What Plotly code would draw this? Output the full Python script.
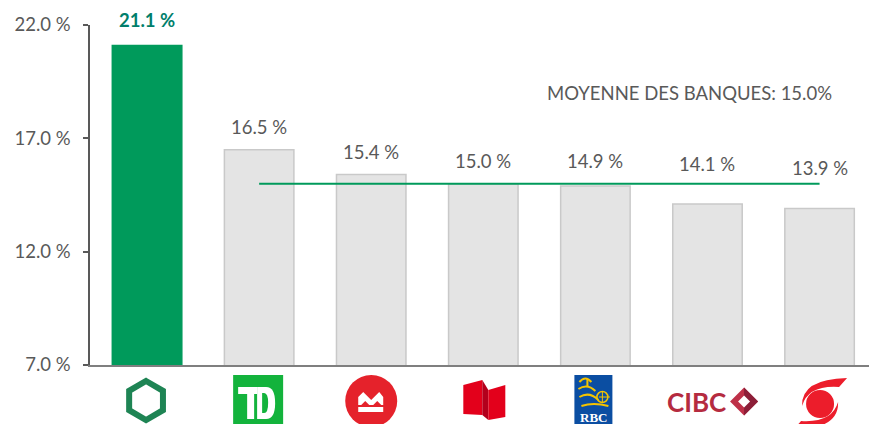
import math
import plotly.graph_objects as go

# ---------------- data ----------------
banks = ["Desjardins", "TD", "BMO", "Banque Nationale", "RBC", "CIBC", "Banque Scotia"]
roe = [21.1, 16.5, 15.4, 15.0, 14.9, 14.1, 13.9]
bank_average = 15.0
y_tick_values = [7.0, 12.0, 17.0, 22.0]
y_tick_labels = ["7.0 %", "12.0 %", "17.0 %", "22.0 %"]
average_label = "MOYENNE DES BANQUES: 15.0%"
value_labels = [f"{v:.1f} %" for v in roe]

# ---------------- style ----------------
FONT = "Lato"
FS = 18.5
GREY_TXT = "#595959"
GREEN = "#009A5B"
TEAL = "#007E6B"
x = list(range(len(banks)))
bar_colors = [GREEN] + ["#E4E4E4"] * (len(banks) - 1)
bar_lines = [GREEN] + ["#C9C9C9"] * (len(banks) - 1)

fig = go.Figure()
fig.add_trace(go.Bar(
    x=x, y=roe, width=0.62, hovertext=banks, showlegend=False,
    marker=dict(color=bar_colors, line=dict(color=bar_lines, width=1.5)),
))
fig.add_trace(go.Scatter(
    x=[x[1], x[-1]], y=[bank_average, bank_average], mode="lines",
    line=dict(color=GREEN, width=2), showlegend=False, hoverinfo="skip",
))

annotations = []
for i, (v, lab) in enumerate(zip(roe, value_labels)):
    if i == 0:
        annotations.append(dict(x=x[i], y=v, yshift=25, text=f"<b>{lab}</b>", showarrow=False,
                                font=dict(family=FONT, size=FS, color=TEAL), yanchor="middle"))
    else:
        base = max(v, bank_average)
        shift = 23 if v >= bank_average - 0.2 else (20 if v >= 14.0 else 16)
        annotations.append(dict(x=x[i], y=base, yshift=shift, text=lab, showarrow=False,
                                font=dict(family=FONT, size=FS, color=GREY_TXT), yanchor="middle"))
annotations.append(dict(x=4.84, y=19.0, text=average_label, showarrow=False,
                        font=dict(family=FONT, size=FS, color=GREY_TXT), xanchor="center", yanchor="middle"))

# ---------------- logos (drawn with pixel-sized shapes under each bar) ----------------
AX = dict(xref="x", yref="paper", xsizemode="pixel", ysizemode="pixel", yanchor=0)


def to_path(cmds, ox, oy):
    out = []
    for c in cmds:
        op = c[0]
        if op == "Z":
            out.append("Z")
            continue
        nums = c[1:]
        pts = [f"{nums[k] + ox:.1f},{-(nums[k + 1] + oy):.1f}" for k in range(0, len(nums), 2)]
        out.append(op + " " + " ".join(pts))
    return " ".join(out)


def poly(pts):
    return [("M", *pts[0])] + [("L", *p) for p in pts[1:]] + [("Z",)]


def rect(x0, y0, x1, y1):
    return poly([(x0, y0), (x1, y0), (x1, y1), (x0, y1)])


def pshape(i, cmds, ox, oy, fill="rgba(0,0,0,0)", line_color=None, lw=0):
    return dict(type="path", xanchor=i, path=to_path(cmds, ox, oy), fillcolor=fill,
                line=dict(color=line_color or "rgba(0,0,0,0)", width=lw), layer="above", **AX)


def cshape(i, cx, cy, r, fill="rgba(0,0,0,0)", line_color=None, lw=0):
    return dict(type="circle", xanchor=i, x0=cx - r, x1=cx + r, y0=-(cy - r), y1=-(cy + r),
                fillcolor=fill, line=dict(color=line_color or "rgba(0,0,0,0)", width=lw),
                layer="above", **AX)


shapes = []
# 1 Desjardins hexagon
R = 19.5
hexpts = [(R * math.cos(math.radians(a)), -R * math.sin(math.radians(a))) for a in (90, 30, -30, -90, -150, 150)]
shapes.append(pshape(0, poly(hexpts), -1, 35.5, line_color="#1E8454", lw=6))

# 2 TD
TDG = "#13B33C"
shapes.append(pshape(1, rect(-25, -25, 25, 25), -1, 35, fill=TDG))
shapes.append(pshape(1, rect(-20, -13, -1, -6), -1, 35, fill="white"))
shapes.append(pshape(1, rect(-11, -13, -4, 19), -1, 35, fill="white"))
shapes.append(pshape(1, [("M", -1, -13), ("L", 8, -13), ("Q", 17, -13, 17, 3), ("Q", 17, 19, 8, 19),
                         ("L", -1, 19), ("Z",)], -1, 35, fill="white"))
shapes.append(pshape(1, [("M", 4, -7), ("L", 6, -7), ("Q", 10, -7, 10, 3), ("Q", 10, 13, 6, 13),
                         ("L", 4, 13), ("Z",)], -1, 35, fill=TDG))

# 3 BMO
BMOR = "#E5222B"
shapes.append(cshape(2, 0, 36, 26, fill=BMOR))
shapes.append(pshape(2, poly([(-13, 4), (-13, -4), (-8, -9), (0, -1), (8, -9), (12, -4), (12, 4)]), 0, 36, fill="white"))
shapes.append(pshape(2, poly([(-10, 4), (-6, 0), (-2, 4)]), 0, 36, fill=BMOR))
shapes.append(pshape(2, poly([(2, 4), (6, 0), (10, 4)]), 0, 36, fill=BMOR))
shapes.append(pshape(2, rect(-13, 6, 12, 11), 0, 36, fill="white"))

# 4 Banque Nationale
shapes.append(pshape(3, poly([(-20, 20), (-1, 15), (-1, 50), (-20, 49)]), 0, 0, fill="#E3001B"))
shapes.append(pshape(3, poly([(-1, 15), (5, 25), (5, 55), (-1, 50)]), 0, 0, fill="#B3001C"))
shapes.append(pshape(3, poly([(5, 25), (22, 20), (22, 52), (5, 55)]), 0, 0, fill="#E3001B"))

# 5 RBC
RBCB = "#0B4EA2"
YEL = "#F5C400"
shapes.append(pshape(4, rect(-19, -25, 19, 27), -2, 35, fill=RBCB))
for seg in ([("M", -14, -18), ("Q", -8, -25, -2, -18)],
            [("M", -15, -11), ("Q", -6, -17, 2, -9)],
            [("M", -14, -3), ("Q", -4, -9, 5, 0)],
            [("M", -12, 6), ("Q", 0, 2, 15, 6)],
            [("M", -6, -21), ("L", -6, -14)]):
    shapes.append(pshape(4, seg, -2, 35, line_color=YEL, lw=2))
shapes.append(cshape(4, 7, 32, 5.5, line_color=YEL, lw=1.5))
shapes.append(pshape(4, [("M", 3.5, 32), ("L", 14.5, 32)], 0, 0, line_color=YEL, lw=1))
shapes.append(pshape(4, [("M", 7, 26.5), ("L", 7, 37.5)], 0, 0, line_color=YEL, lw=1))
annotations.append(dict(x=x[4], xshift=-2, y=0, yref="paper", yshift=-52, text="<b>RBC</b>", showarrow=False,
                        font=dict(family="Liberation Serif", size=13, color="white"), yanchor="middle"))

# 6 CIBC
annotations.append(dict(x=x[5], xshift=-11, y=0, yref="paper", yshift=-37, text="<b>CIBC</b>", showarrow=False,
                        font=dict(family=FONT, size=26, color="#B52B40"), yanchor="middle"))
shapes.append(pshape(5, poly([(0, -14), (14, 0), (0, 14), (-14, 0)]), 36.6, 36.5, fill="#BE3048"))
shapes.append(pshape(5, poly([(0, -14), (14, 0), (0, 14)]), 36.6, 36.5, fill="#8C1E38"))
shapes.append(pshape(5, poly([(0, -6), (6, 0), (0, 6), (-6, 0)]), 36.6, 36.5, fill="white"))

# 7 Scotiabank
SCR = "#EC1D2B"
shapes.append(cshape(6, 0.5, 39, 14, fill=SCR))
shapes.append(pshape(6, [("M", -18, 2), ("Q", -19, -25, 27, -26), ("L", 19, -17), ("Q", -12, -19, -18, 2), ("Z",)],
                     0.5, 39, fill=SCR))
shapes.append(pshape(6, [("M", 18, -2), ("Q", 19, 25, -27, 26), ("L", -19, 17), ("Q", 12, 19, 18, -2), ("Z",)],
                     0.5, 39, fill=SCR))

fig.update_layout(
    width=869, height=424,
    margin=dict(l=90, r=0, t=25, b=59, pad=0),
    plot_bgcolor="white", paper_bgcolor="white",
    font=dict(family=FONT, color=GREY_TXT),
    xaxis=dict(range=[-0.509, 6.441], showline=True, linecolor="#7F7F7F", linewidth=1.5,
               showticklabels=False, ticks="", showgrid=False, zeroline=False, fixedrange=True),
    yaxis=dict(range=[7, 22], tickvals=y_tick_values, ticktext=y_tick_labels, showline=True,
               linecolor="#595959", linewidth=1.5, ticks="outside", ticklen=5, tickcolor="#595959",
               tickwidth=1.5, showgrid=False, zeroline=False, ticklabelstandoff=9,
               tickfont=dict(family=FONT, size=FS, color=GREY_TXT), fixedrange=True),
    annotations=annotations,
    shapes=shapes,
    bargap=0.38,
)

fig.write_html("out.html")
